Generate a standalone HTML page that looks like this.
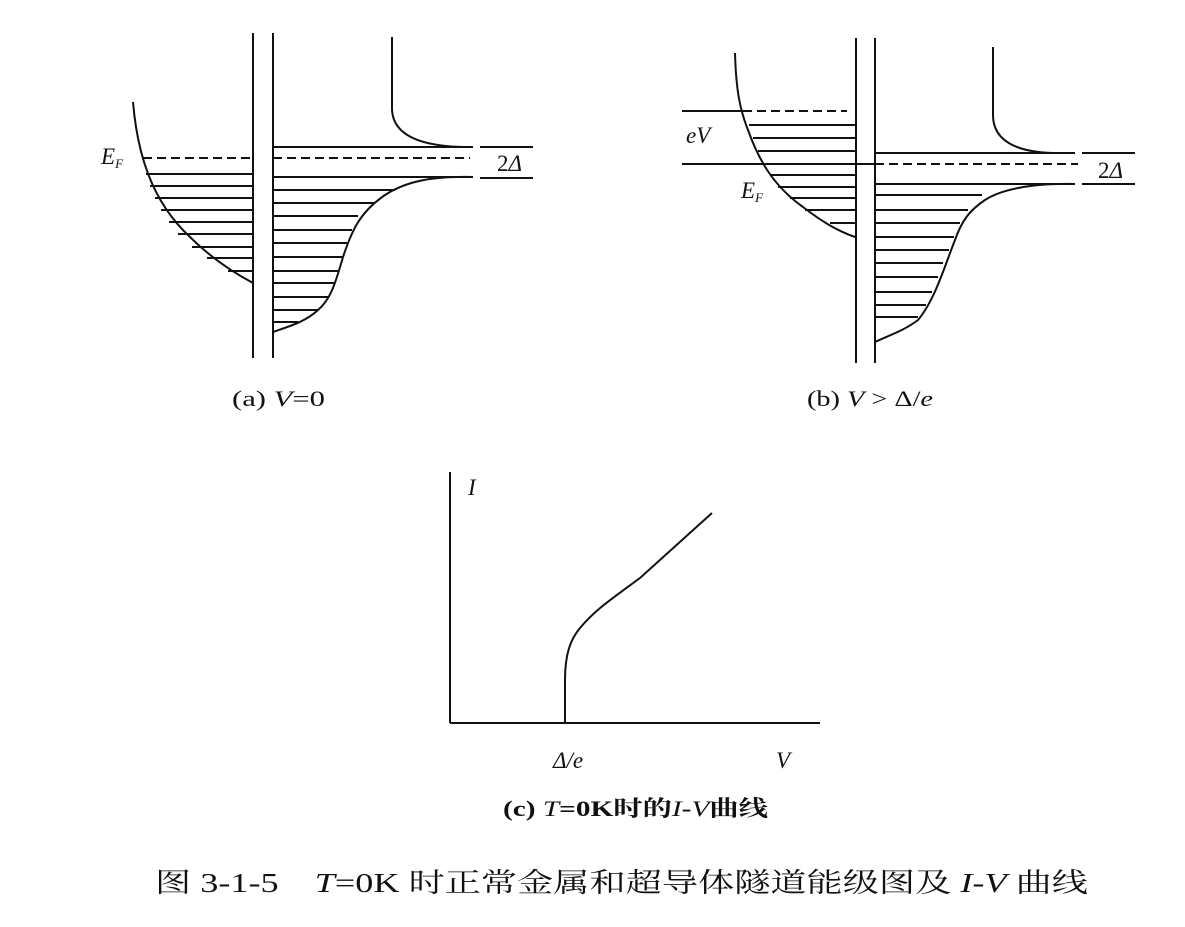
<!DOCTYPE html>
<html><head><meta charset="utf-8"><style>
html,body{margin:0;padding:0;background:#fff;}
svg{display:block;}
text{font-family:"Liberation Serif","Noto Serif CJK SC",serif;fill:#111;}
</style></head><body>
<svg width="1185" height="927" viewBox="0 0 1185 927" xmlns="http://www.w3.org/2000/svg">
<g stroke="#111" stroke-width="2" fill="none">
<!-- (a) -->
<line x1="253" y1="33" x2="253" y2="358"/>
<line x1="273" y1="33" x2="273" y2="358"/>
<path d="M133,102 C137,150 150,200 190,237 C205,252 225,268 253,283"/>
<line x1="143" y1="158" x2="253" y2="158" stroke-dasharray="9,5"/>
<line x1="273" y1="158" x2="470" y2="158" stroke-dasharray="9,5"/>
<line x1="273" y1="147" x2="473" y2="147"/>
<line x1="273" y1="177" x2="473" y2="177"/>
<line x1="480" y1="147" x2="533" y2="147"/>
<line x1="480" y1="178" x2="533" y2="178"/>
<g stroke-width="1.9">
<line x1="146" y1="174" x2="253" y2="174"/>
<line x1="150" y1="186" x2="253" y2="186"/>
<line x1="155" y1="198" x2="253" y2="198"/>
<line x1="161" y1="210" x2="253" y2="210"/>
<line x1="169" y1="222" x2="253" y2="222"/>
<line x1="178" y1="234" x2="253" y2="234"/>
<line x1="192" y1="247" x2="253" y2="247"/>
<line x1="207" y1="258" x2="253" y2="258"/>
<line x1="228" y1="271" x2="253" y2="271"/>
<line x1="273" y1="190" x2="395" y2="190"/>
<line x1="273" y1="203" x2="374" y2="203"/>
<line x1="273" y1="216" x2="358" y2="216"/>
<line x1="273" y1="230" x2="352" y2="230"/>
<line x1="273" y1="243" x2="347" y2="243"/>
<line x1="273" y1="257" x2="343" y2="257"/>
<line x1="273" y1="271" x2="338" y2="271"/>
<line x1="273" y1="283" x2="334" y2="283"/>
<line x1="273" y1="297" x2="328" y2="297"/>
<line x1="273" y1="310" x2="318" y2="310"/>
<line x1="273" y1="322" x2="298" y2="322"/>
</g>
<path d="M473,177 C430,176 405,182 385,195 C360,212 352,230 343,257 C335,285 330,300 318,310 C305,322 290,326 273,332"/>
<path d="M392,37 L392,108 C392,135 420,146 463,147"/>
<!-- (b) -->
<line x1="856" y1="38" x2="856" y2="363"/>
<line x1="875" y1="38" x2="875" y2="363"/>
<path d="M735,53 C736,90 740,110 748,130 C758,158 772,185 803,207 C820,220 835,230 855,237"/>
<line x1="682" y1="111" x2="743" y2="111"/>
<line x1="743" y1="111" x2="847" y2="111" stroke-dasharray="9,5"/>
<line x1="682" y1="164" x2="875" y2="164"/>
<line x1="875" y1="164" x2="1078" y2="164" stroke-dasharray="9,5"/>
<line x1="875" y1="153" x2="1075" y2="153"/>
<line x1="875" y1="184" x2="1075" y2="184"/>
<line x1="1082" y1="153" x2="1135" y2="153"/>
<line x1="1082" y1="184" x2="1135" y2="184"/>
<g stroke-width="1.9">
<line x1="749" y1="125" x2="856" y2="125"/>
<line x1="753" y1="138" x2="856" y2="138"/>
<line x1="758" y1="151" x2="856" y2="151"/>
<line x1="770" y1="175" x2="856" y2="175"/>
<line x1="778" y1="187" x2="856" y2="187"/>
<line x1="790" y1="198" x2="856" y2="198"/>
<line x1="805" y1="210" x2="856" y2="210"/>
<line x1="830" y1="223" x2="856" y2="223"/>
<line x1="875" y1="195" x2="982" y2="195"/>
<line x1="875" y1="210" x2="968" y2="210"/>
<line x1="875" y1="223" x2="960" y2="223"/>
<line x1="875" y1="237" x2="954" y2="237"/>
<line x1="875" y1="250" x2="949" y2="250"/>
<line x1="875" y1="263" x2="943" y2="263"/>
<line x1="875" y1="277" x2="938" y2="277"/>
<line x1="875" y1="292" x2="932" y2="292"/>
<line x1="875" y1="305" x2="926" y2="305"/>
<line x1="875" y1="317" x2="918" y2="317"/>
</g>
<path d="M1075,184 C1030,183 1000,190 985,200 C970,210 962,220 955,240 C945,265 935,300 918,320 C905,330 890,335 875,342"/>
<path d="M993,47 L993,115 C993,140 1015,152 1053,153"/>
<!-- (c) -->
<line x1="450" y1="472" x2="450" y2="723"/>
<line x1="450" y1="723" x2="820" y2="723"/>
<path d="M565,723 L565,680 C565,655 570,640 580,628 C595,610 610,600 640,578 L712,513"/>
</g>
<g font-style="italic" font-size="23">
<text x="101" y="164">E<tspan font-size="13" dy="4">F</tspan></text>
<text x="686" y="143">eV</text>
<text x="741" y="198">E<tspan font-size="13" dy="4">F</tspan></text>
<text x="468" y="495">I</text>
<text x="553" y="768">Δ/e</text>
<text x="776" y="768">V</text>
</g>
<text x="497" y="171" font-size="23">2<tspan font-style="italic">Δ</tspan></text>
<text x="1098" y="178" font-size="23">2<tspan font-style="italic">Δ</tspan></text>
<text x="232" y="406" font-size="22" textLength="93" lengthAdjust="spacingAndGlyphs">(a) <tspan font-style="italic">V</tspan>=0</text>
<text x="807" y="406" font-size="22" textLength="126" lengthAdjust="spacingAndGlyphs">(b) <tspan font-style="italic">V</tspan> &gt; Δ/<tspan font-style="italic">e</tspan></text>
<text x="503" y="816" font-size="22" font-weight="bold" textLength="265" lengthAdjust="spacingAndGlyphs">(c) <tspan font-style="italic" font-weight="normal">T</tspan>=0K时的<tspan font-style="italic" font-weight="normal">I</tspan>-<tspan font-style="italic" font-weight="normal">V</tspan>曲线</text>
<text x="155" y="892" font-size="27" textLength="933" lengthAdjust="spacingAndGlyphs">图 3-1-5　<tspan font-style="italic">T</tspan>=0K 时正常金属和超导体隧道能级图及 <tspan font-style="italic">I</tspan>-<tspan font-style="italic">V</tspan> 曲线</text>
</svg>
</body></html>
